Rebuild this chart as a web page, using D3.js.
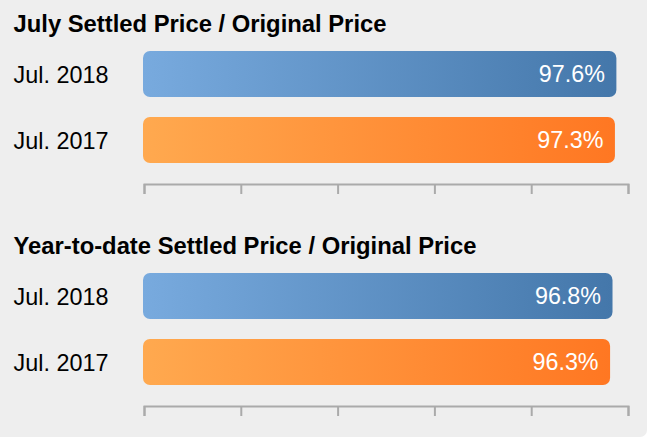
<!DOCTYPE html>
<html>
<head>
<meta charset="utf-8">
<script src="https://cdn.jsdelivr.net/npm/d3@7"></script>
<style>
  html, body { margin: 0; padding: 0; background: #ffffff; }
  svg { display: block; }
</style>
</head>
<body>
<svg id="chart" width="647" height="437"></svg>
<script>
const titles = ["July Settled Price / Original Price", "Year-to-date Settled Price / Original Price"];
const categories = ["Jul. 2018", "Jul. 2017"];
const julyValues = [97.6, 97.3];
const ytdValues = [96.8, 96.3];
const tickValues = [0, 20, 40, 60, 80, 100];

const panels = [
  { title: titles[0], values: julyValues },
  { title: titles[1], values: ytdValues }
];

const svg = d3.select("#chart");
const W = 647, H = 437;

svg.append("rect")
  .attr("x", -20).attr("y", -20)
  .attr("width", W + 20).attr("height", H + 20)
  .attr("rx", 7)
  .attr("fill", "#eeeeee");

const defs = svg.append("defs");
const gradColors = [["#78aade", "#4477aa"], ["#ffa94f", "#ff7722"]];
gradColors.forEach((c, i) => {
  const g = defs.append("linearGradient")
    .attr("id", "grad" + i)
    .attr("x1", "0%").attr("x2", "100%").attr("y1", "0%").attr("y2", "0%");
  g.append("stop").attr("offset", "0%").attr("stop-color", c[0]);
  g.append("stop").attr("offset", "100%").attr("stop-color", c[1]);
});

const x = d3.scaleLinear().domain([0, 100]).range([144, 628]);
const y = d3.scaleBand().domain(categories).range([44.4, 169.6]).paddingInner(0.303).paddingOuter(0.1);

const panelOffset = 222;
const font = "Arial, 'Liberation Sans', sans-serif";

panels.forEach((p, pi) => {
  const g = svg.append("g").attr("transform", `translate(0,${pi * panelOffset})`);

  g.append("text")
    .attr("x", 13.5)
    .attr("y", 31.5)
    .attr("font-family", font)
    .attr("font-weight", "bold")
    .attr("font-size", "23.8px")
    .attr("fill", "#000")
    .text(p.title);

  const rows = g.selectAll("g.row")
    .data(categories.map((c, i) => ({ cat: c, v: p.values[i], i })))
    .enter().append("g").attr("class", "row");

  rows.append("text")
    .attr("x", 13.5)
    .attr("y", d => y(d.cat) + y.bandwidth() / 2 + 8.7)
    .attr("font-family", font)
    .attr("font-size", "23.4px")
    .attr("fill", "#000")
    .text(d => d.cat);

  rows.append("rect")
    .attr("x", x(0) - 1)
    .attr("y", d => y(d.cat))
    .attr("width", d => x(d.v) - x(0) + 1)
    .attr("height", y.bandwidth())
    .attr("rx", 7)
    .attr("fill", d => `url(#grad${d.i})`);

  rows.append("text")
    .attr("x", d => x(d.v) - 11.5)
    .attr("y", d => y(d.cat) + y.bandwidth() / 2 + 8)
    .attr("text-anchor", "end")
    .attr("font-family", font)
    .attr("font-size", "23.3px")
    .attr("fill", "#ffffff")
    .text(d => d.v.toFixed(1) + "%");

  const axis = d3.axisBottom(x)
    .tickValues(tickValues)
    .tickSize(10)
    .tickSizeOuter(10)
    .tickFormat("");

  const ag = g.append("g")
    .attr("transform", "translate(0,184)")
    .call(axis);
  ag.select(".domain").attr("stroke", "#aaaaaa").attr("stroke-width", 2);
  ag.selectAll(".tick line").attr("stroke", "#aaaaaa").attr("stroke-width", 2);
});
</script>
</body>
</html>
